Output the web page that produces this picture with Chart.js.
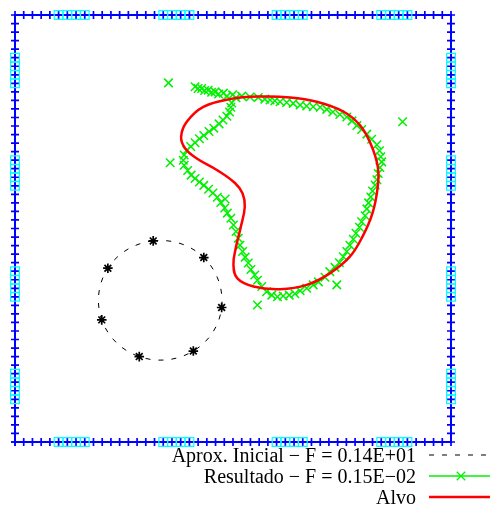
<!DOCTYPE html>
<html>
<head>
<meta charset="utf-8">
<script src="https://cdn.jsdelivr.net/npm/chart.js@4/dist/chart.umd.min.js"></script>
<style>
  html, body { margin: 0; padding: 0; background: #fff; }
  canvas { display: block; }
</style>
</head>
<body>
<canvas id="c" width="490" height="505"></canvas>
<script>
// Stations along each side of the unit square domain
const gridTicks = [0.00, 0.02, 0.04, 0.06, 0.08, 0.10, 0.12, 0.14, 0.16, 0.18,
                   0.20, 0.22, 0.24, 0.26, 0.28, 0.30, 0.32, 0.34, 0.36, 0.38,
                   0.40, 0.42, 0.44, 0.46, 0.48, 0.50, 0.52, 0.54, 0.56, 0.58,
                   0.60, 0.62, 0.64, 0.66, 0.68, 0.70, 0.72, 0.74, 0.76, 0.78,
                   0.80, 0.82, 0.84, 0.86, 0.88, 0.90, 0.92, 0.94, 0.96, 0.98, 1.00];

// Stations that hold a measurement box (same on every side)
const sensorTicks = [0.10, 0.12, 0.14, 0.16, 0.34, 0.36, 0.38, 0.40,
                     0.60, 0.62, 0.64, 0.66, 0.84, 0.86, 0.88, 0.90];

// Initial approximation: control nodes
const initX = [0.317, 0.433, 0.474, 0.409, 0.285, 0.199, 0.213];
const initY = [0.471, 0.432, 0.315, 0.213, 0.200, 0.286, 0.407];

// Reconstructed boundary nodes
const resultX = [
  0.413, 0.428, 0.443, 0.459, 0.478, 0.499, 0.520, 0.539, 0.558, 0.573,
  0.585, 0.596, 0.608, 0.623, 0.638, 0.654, 0.669, 0.684, 0.700, 0.715,
  0.729, 0.745, 0.761, 0.773, 0.784, 0.795, 0.807, 0.818, 0.830, 0.836,
  0.839, 0.841, 0.837, 0.833, 0.830, 0.826, 0.820, 0.816, 0.811, 0.807,
  0.803, 0.795, 0.790, 0.782, 0.776, 0.768, 0.761, 0.753, 0.744, 0.734,
  0.722, 0.711, 0.696, 0.684, 0.669, 0.654, 0.642, 0.629, 0.615, 0.602,
  0.589, 0.577, 0.566, 0.556, 0.550, 0.541, 0.535, 0.528, 0.522, 0.516,
  0.512, 0.507, 0.501, 0.495, 0.487, 0.481, 0.472, 0.464, 0.454, 0.444,
  0.433, 0.423, 0.413, 0.404, 0.396, 0.388, 0.386, 0.388, 0.394, 0.403,
  0.413, 0.423, 0.433, 0.445, 0.456, 0.468, 0.477, 0.486, 0.492, 0.495,
  0.497,
  0.507, 0.486, 0.467, 0.451, 0.435, 0.420,
  0.352, 0.889, 0.356, 0.556, 0.738, 0.482
];
const resultY = [
  0.832, 0.828, 0.824, 0.820, 0.817, 0.813, 0.810, 0.808, 0.807, 0.803,
  0.801, 0.799, 0.797, 0.795, 0.793, 0.789, 0.787, 0.785, 0.784, 0.779,
  0.773, 0.767, 0.761, 0.752, 0.741, 0.732, 0.721, 0.709, 0.696, 0.682,
  0.668, 0.656, 0.643, 0.629, 0.614, 0.602, 0.588, 0.574, 0.560, 0.546,
  0.530, 0.516, 0.503, 0.489, 0.475, 0.461, 0.446, 0.434, 0.420, 0.409,
  0.399, 0.386, 0.375, 0.368, 0.360, 0.354, 0.347, 0.344, 0.342, 0.340,
  0.344, 0.352, 0.364, 0.379, 0.391, 0.404, 0.419, 0.433, 0.446, 0.461,
  0.477, 0.493, 0.508, 0.524, 0.536, 0.548, 0.561, 0.573, 0.583, 0.592,
  0.601, 0.609, 0.617, 0.625, 0.636, 0.648, 0.660, 0.672, 0.683, 0.692,
  0.701, 0.710, 0.718, 0.727, 0.735, 0.745, 0.754, 0.763, 0.773, 0.784,
  0.794,
  0.806, 0.810, 0.815, 0.819, 0.823, 0.828,
  0.841, 0.750, 0.654, 0.321, 0.368, 0.569
];

// Target shape
const targetX = [0.381, 0.394, 0.432, 0.493, 0.562, 0.631, 0.692, 0.753, 0.791, 0.815,
                 0.832, 0.832, 0.820, 0.797, 0.768, 0.722, 0.669, 0.608, 0.547, 0.510,
                 0.501, 0.507, 0.518, 0.527, 0.522, 0.505, 0.463, 0.417, 0.390];
const targetY = [0.715, 0.750, 0.785, 0.803, 0.809, 0.807, 0.797, 0.774, 0.742, 0.700,
                 0.645, 0.598, 0.536, 0.481, 0.434, 0.395, 0.368, 0.358, 0.364, 0.383,
                 0.415, 0.457, 0.504, 0.551, 0.582, 0.606, 0.637, 0.664, 0.688];

const legendLabels = [
  'Aprox. Inicial \u2212 F = 0.14E+01',
  'Resultado \u2212 F = 0.15E\u221202',
  'Alvo'
];

const BLUE = '#0000ff', CYAN = '#00ffff', GREEN = '#00f000', RED = '#ff0000';

// Square frame through the side stations, walked counter-clockwise
const n = gridTicks.length;
const frame = [];
gridTicks.forEach(t => frame.push({ x: t, y: 0 }));
gridTicks.slice(1).forEach(t => frame.push({ x: 1, y: t }));
gridTicks.slice(0, n - 1).reverse().forEach(t => frame.push({ x: t, y: 1 }));
gridTicks.slice(0, n - 1).reverse().forEach(t => frame.push({ x: 0, y: t }));

const boxes = [];
sensorTicks.forEach(s => {
  boxes.push({ x: s, y: 1 }, { x: s, y: 0 }, { x: 0, y: s }, { x: 1, y: s });
});

// Closed smooth curve: wrap neighbours around so the spline has tangents at the join,
// then hide the two helper segments.
function wrapped(xs, ys) {
  const pts = xs.map((x, i) => ({ x, y: ys[i] }));
  const m = pts.length;
  return { m, data: [pts[m - 1], ...pts, pts[0], pts[1]] };
}
const init = wrapped(initX, initY);
const target = wrapped(targetX, targetY);
const hideSeg = (m, color) => ctx =>
  (ctx.p0DataIndex === 0 || ctx.p0DataIndex > m) ? 'rgba(0,0,0,0)' : color;

const resultPts = resultX.map((x, i) => ({ x, y: resultY[i] }));

const keyPlugin = {
  id: 'keyBox',
  afterDatasetsDraw(chart) {
    const ctx = chart.ctx;
    const rows = [455, 476, 497];
    const x0 = 429, x1 = 490, tx = 416;
    ctx.save();
    ctx.font = '20px "Liberation Serif", "Times New Roman", serif';
    ctx.fillStyle = '#000';
    ctx.textAlign = 'right';
    ctx.textBaseline = 'alphabetic';
    legendLabels.forEach((lab, i) => ctx.fillText(lab, tx, rows[i] + 6.5));

    // dashed black sample
    ctx.strokeStyle = '#000';
    ctx.lineWidth = 1;
    ctx.setLineDash([5, 8]);
    ctx.beginPath(); ctx.moveTo(x0, rows[0]); ctx.lineTo(x1, rows[0]); ctx.stroke();
    ctx.setLineDash([]);

    // green sample with a cross marker
    ctx.strokeStyle = GREEN;
    ctx.lineWidth = 1.3;
    ctx.beginPath(); ctx.moveTo(x0, rows[1]); ctx.lineTo(x1, rows[1]); ctx.stroke();
    Chart.helpers.drawPoint(ctx, { pointStyle: 'crossRot', radius: 6, borderWidth: 1.4 }, 461, rows[1]);

    // red sample
    ctx.strokeStyle = RED;
    ctx.lineWidth = 2.5;
    ctx.beginPath(); ctx.moveTo(x0, rows[2]); ctx.lineTo(x1, rows[2]); ctx.stroke();
    ctx.restore();
  }
};

new Chart(document.getElementById('c'), {
  type: 'scatter',
  data: {
    datasets: [
      {
        label: legendLabels[2],
        data: target.data,
        showLine: true,
        tension: 0.4,
        borderColor: RED,
        borderWidth: 2.5,
        pointRadius: 0,
        segment: { borderColor: hideSeg(target.m, RED) },
        clip: false
      },
      {
        label: legendLabels[1],
        data: resultPts,
        showLine: false,
        pointStyle: 'crossRot',
        pointRadius: 6,
        borderColor: GREEN,
        backgroundColor: GREEN,
        pointBorderWidth: 1.5,
        clip: false
      },
      {
        label: legendLabels[0],
        data: init.data,
        showLine: true,
        tension: 0.39,
        borderColor: '#000',
        borderWidth: 1,
        borderDash: [5, 8],
        pointStyle: 'star',
        pointRadius: ctx => (ctx.dataIndex === 0 || ctx.dataIndex > init.m) ? 0 : 4.8,
        pointBorderColor: '#000',
        pointBorderWidth: 1.7,
        segment: { borderColor: hideSeg(init.m, '#000') },
        clip: false
      },
      {
        label: 'boxes',
        data: boxes,
        showLine: false,
        pointStyle: 'rect',
        pointRadius: 6.2,
        borderColor: CYAN,
        backgroundColor: 'rgba(0,0,0,0)',
        pointBorderWidth: 1.2,
        clip: false
      },
      {
        label: 'frame',
        data: frame,
        showLine: true,
        borderColor: BLUE,
        borderWidth: 2,
        pointStyle: 'cross',
        pointRadius: 4,
        pointBorderColor: BLUE,
        pointBorderWidth: 1.7,
        clip: false
      }
    ]
  },
  options: {
    responsive: false,
    animation: false,
    events: [],
    layout: { padding: { left: 15, top: 15, right: 39, bottom: 63 } },
    scales: {
      x: { type: 'linear', min: 0, max: 1, display: false },
      y: { type: 'linear', min: 0, max: 1, display: false }
    },
    plugins: { legend: { display: false }, tooltip: { enabled: false } }
  },
  plugins: [keyPlugin]
});
</script>
</body>
</html>
